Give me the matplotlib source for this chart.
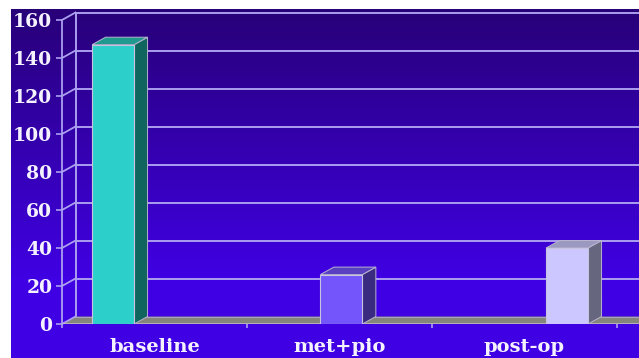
import numpy as np
import matplotlib
matplotlib.use('Agg')
import matplotlib.pyplot as plt
from matplotlib.patches import Polygon

# Data
categories = ['baseline', 'met+pio', 'post-op']
values = [147, 26, 40]
bar_offsets = [-0.224, 0.01, 0.23]
y_ticks = [0, 20, 40, 60, 80, 100, 120, 140, 160]

# Colours for each bar: front, side, top
front_colors = ['#2dcfcb', '#7355fb', '#ccc8ff']
side_colors = ['#10665f', '#3a2a80', '#66667f']
top_colors = ['#20998f', '#5a40c0', '#9c99c0']
line_color = '#ab9ff0'
text_color = '#f4f2ff'

W, H = 639, 358
fig = plt.figure(figsize=(W / 100, H / 100), dpi=100, facecolor='white')

# Background gradient, flat over the lower part
bg = fig.add_axes([11 / W, 0, 1 - 11 / W, 1 - 9 / H])
grad = np.clip(np.linspace(0, 1, 256) / 0.78, 0, 1)[:, None, None]
dark = np.array([0x28, 0x00, 0x78]) / 255
bright = np.array([0x40, 0x00, 0xe4]) / 255
bg.imshow(dark + grad * (bright - dark), aspect='auto', interpolation='bilinear')
bg.axis('off')

# Main axes: y=0 sits at pixel row 324, y=160 at row 20, one category is 185 px
px_y = 304 / 160
px_x = 185
ax = fig.add_axes([62 / W, (H - 324) / H, (W - 62) / W, (324 - 9) / H])
ax.set_xlim(0, (W - 62) / px_x)
ax.set_ylim(0, (324 - 9) / px_y)
ax.patch.set_alpha(0)

# Depth of the 3D look, in data units
dx = 13.5 / px_x
dy = 7.5 / px_y
x_end = ax.get_xlim()[1] + 0.1

# Floor
ax.add_patch(Polygon([(0, 0), (dx, dy), (x_end, dy), (x_end, 0)], closed=True,
                     facecolor='#85857c', edgecolor='none', zorder=1, clip_on=False))
ax.plot([0, x_end], [0, 0], color='#c4c0c8', lw=1.8, zorder=1.5)
ax.plot([dx, x_end], [dy, dy], color='#a8a4c0', lw=0.8, zorder=1.5)

# Back wall lines and the connectors to the left axis
for v in y_ticks[1:]:
    ax.plot([dx, x_end], [v + dy, v + dy], color=line_color, lw=1.4, zorder=1)
for v in y_ticks:
    ax.plot([0, dx], [v, v + dy], color=line_color, lw=1.3, zorder=1, clip_on=False)
ax.plot([dx, dx], [dy, 160 + dy], color=line_color, lw=1.4, zorder=1)

# Bars
bar_w = 42 / px_x
for i, val in enumerate(values):
    x0 = i + 0.5 + bar_offsets[i] - bar_w / 2
    x1 = x0 + bar_w
    ax.add_patch(Polygon([(x1, 0), (x1 + dx, dy), (x1 + dx, val + dy), (x1, val)], closed=True,
                         facecolor=side_colors[i], edgecolor='#b8b4d0', lw=0.7, zorder=3))
    ax.add_patch(Polygon([(x0, val), (x0 + dx, val + dy), (x1 + dx, val + dy), (x1, val)], closed=True,
                         facecolor=top_colors[i], edgecolor='#b8b4d0', lw=0.7, zorder=3))
    ax.bar(x0, val, width=bar_w, align='edge', color=front_colors[i],
           edgecolor='#c8c4e0', linewidth=0.8, zorder=4)

# Axes and labels
for name in ['top', 'right', 'bottom']:
    ax.spines[name].set_visible(False)
ax.spines['left'].set_bounds(0, 160)
ax.spines['left'].set_color(line_color)
ax.spines['left'].set_linewidth(1.3)

ax.set_yticks(y_ticks)
ax.set_yticklabels([str(v) for v in y_ticks], fontfamily='DejaVu Serif',
                   fontweight='bold', fontsize=13.5, color=text_color)
ax.tick_params(axis='y', length=4, width=1.2, color=line_color, pad=3)

ax.set_xticks([0, 1, 2, 3])
ax.set_xticklabels([])
ax.tick_params(axis='x', which='major', length=3, width=1.2, color=line_color)
ax.set_xticks([0.5, 1.5, 2.5], minor=True)
ax.set_xticklabels(categories, minor=True, fontfamily='DejaVu Serif',
                   fontweight='bold', fontsize=14, color=text_color)
ax.tick_params(axis='x', which='minor', length=0, pad=10)

fig.savefig('out.png', dpi=100)
